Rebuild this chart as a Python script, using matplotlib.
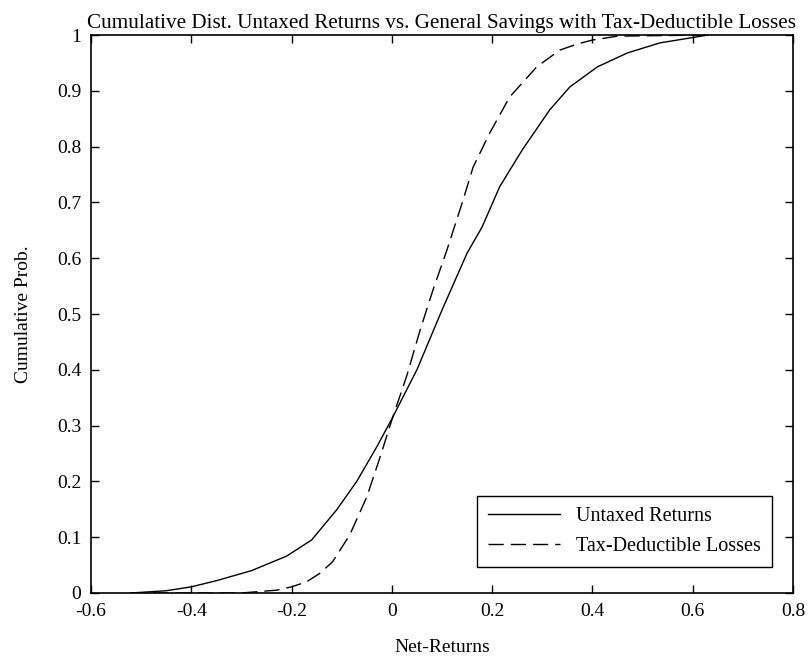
import matplotlib
matplotlib.use('Agg')
import matplotlib.pyplot as plt

# valores
x_untaxed = [-0.52, -0.45, -0.40, -0.35, -0.28, -0.21, -0.16, -0.11, -0.07, -0.03,
             0.0, 0.05, 0.10, 0.15, 0.18, 0.215, 0.26, 0.315, 0.355, 0.41,
             0.47, 0.535, 0.59, 0.63]
y_untaxed = [0.0, 0.004, 0.011, 0.022, 0.04, 0.066, 0.095, 0.149, 0.20, 0.262,
             0.312, 0.40, 0.507, 0.609, 0.656, 0.728, 0.794, 0.866, 0.907, 0.943,
             0.968, 0.986, 0.994, 1.0]

x_taxded = [-0.52, -0.30, -0.23, -0.20, -0.17, -0.144, -0.118, -0.084, -0.05, -0.024,
            0.0, 0.03, 0.056, 0.082, 0.11, 0.142, 0.162, 0.195, 0.235, 0.289,
            0.335, 0.37, 0.40, 0.45, 0.62]
y_taxded = [0.0, 0.0, 0.005, 0.011, 0.02, 0.035, 0.056, 0.104, 0.172, 0.242,
            0.31, 0.39, 0.47, 0.543, 0.615, 0.704, 0.763, 0.824, 0.889, 0.943,
            0.973, 0.984, 0.991, 0.998, 1.0]

x_ticks = [-0.6, -0.4, -0.2, 0, 0.2, 0.4, 0.6, 0.8]
x_labels = ['-0.6', '-0.4', '-0.2', '0', '0.2', '0.4', '0.6', '0.8']
y_ticks = [0, 0.1, 0.2, 0.3, 0.4, 0.5, 0.6, 0.7, 0.8, 0.9, 1]
y_labels = ['0', '0.1', '0.2', '0.3', '0.4', '0.5', '0.6', '0.7', '0.8', '0.9', '1']

plt.rcParams['font.family'] = ['Liberation Serif', 'DejaVu Serif']

fig = plt.figure(figsize=(8.1, 6.61), dpi=100)
ax = fig.add_axes([0.1123, 0.1029, 0.8667, 0.8441])

ax.plot(x_untaxed, y_untaxed, color='black', lw=1.0, label='Untaxed Returns')
ax.plot(x_taxded, y_taxded, color='black', lw=1.0, dashes=(11, 5),
        label='Tax-Deductible Losses')

ax.set_xlim(-0.6, 0.8)
ax.set_ylim(0, 1)
ax.set_xticks(x_ticks)
ax.set_xticklabels(x_labels)
ax.set_yticks(y_ticks)
ax.set_yticklabels(y_labels)
ax.tick_params(direction='in', top=True, right=True, length=6, width=1,
               labelsize=14, pad=7)
for s in ax.spines.values():
    s.set_linewidth(1.2)

ax.set_title('Cumulative Dist. Untaxed Returns vs. General Savings with Tax-Deductible Losses',
             fontsize=15.2, pad=5)
ax.set_xlabel('Net-Returns', fontsize=14, labelpad=14)
ax.set_ylabel('Cumulative Prob.', fontsize=14, labelpad=18)

leg = ax.legend(loc='lower right', fontsize=14.5, fancybox=False, framealpha=1,
                edgecolor='black', handlelength=3.6, borderpad=0.55,
                handletextpad=0.8, bbox_to_anchor=(0.985, 0.029))
leg.get_frame().set_linewidth(1.0)

fig.savefig('out.png', dpi=100)
